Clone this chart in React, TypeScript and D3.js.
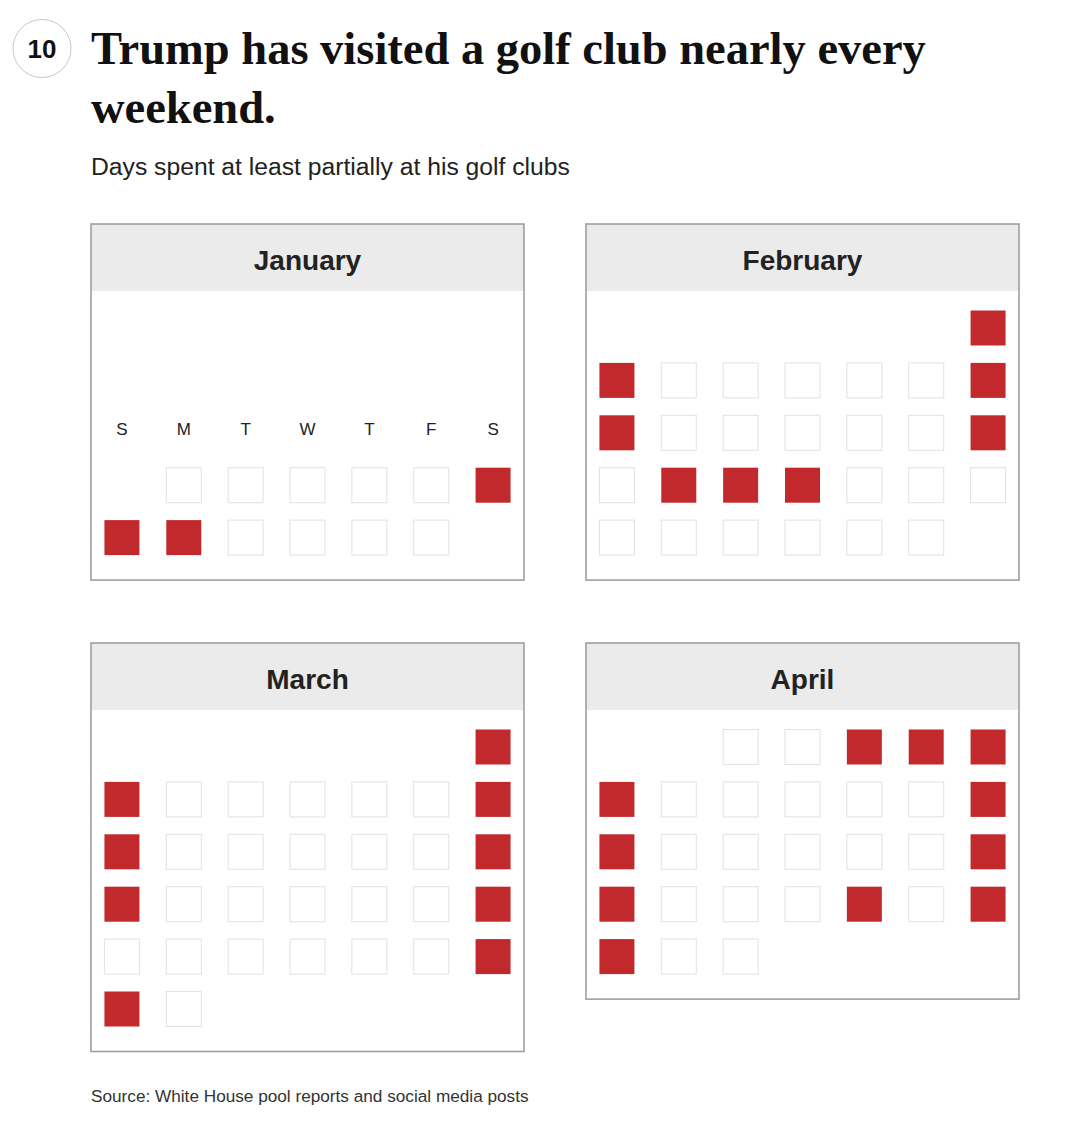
import React from 'react';
import * as d3 from 'd3';

// visible date range per month (tracking starts Jan 20, ends Apr 29)
const monthNames = ['January', 'February', 'March', 'April'];
const rangeStarts = ['2025-01-20', '2025-02-01', '2025-03-01', '2025-04-01'];
const rangeEnds = ['2025-01-31', '2025-02-28', '2025-03-31', '2025-04-29'];

// days spent at least partially at a golf club
const januaryVisits = [25, 26, 27];
const februaryVisits = [1, 2, 8, 9, 15, 17, 18, 19];
const marchVisits = [1, 2, 8, 9, 15, 16, 22, 29, 30];
const aprilVisits = [3, 4, 5, 6, 12, 13, 19, 20, 24, 26, 27];
const visitsByMonth = [januaryVisits, februaryVisits, marchVisits, aprilVisits];

const weekdayLabels = ['S', 'M', 'T', 'W', 'T', 'F', 'S'];

const W = 1090;
const H = 1128;
const PANEL_W = 433;
const HEADER_H = 67;
const ROW_STEP = 52.4;
const CELL = 35;
const RED = '#c1292c';

const parse = d3.utcParse('%Y-%m-%d');
const panelX = [91, 586, 91, 586];
const panelY = [224, 224, 643, 643];

const sans = '"Liberation Sans", Arial, sans-serif';

type Day = { date: Date; day: number; row: number; col: number; visited: boolean };

function monthDays(i: number): Day[] {
  const start = parse(rangeStarts[i]) as Date;
  const end = parse(rangeEnds[i]) as Date;
  const first = d3.utcMonth(start);
  return d3.utcDays(start, d3.utcDay.offset(end, 1)).map((date) => ({
    date,
    day: date.getUTCDate(),
    row: d3.utcSunday.count(first, date),
    col: date.getUTCDay(),
    visited: visitsByMonth[i].includes(date.getUTCDate()),
  }));
}

const Panel: React.FC<{ i: number }> = ({ i }) => {
  const days = monthDays(i);
  const first = d3.utcMonth(days[0].date);
  const last = d3.utcDay.offset(d3.utcMonth.offset(first, 1), -1);
  const nRows = d3.utcSunday.count(first, last) + 1;
  const x = d3.scaleBand<number>().domain(d3.range(7)).range([0, PANEL_W]);
  const y = d3.scaleLinear().domain([0, 1]).range([HEADER_H + 37, HEADER_H + 37 + ROW_STEP]);
  const height = y(nRows - 1) + CELL / 2 + 25;
  const firstRow = days[0].row;
  const showLabels = firstRow > 0 && i === 0;
  return (
    <g transform={`translate(${panelX[i]},${panelY[i]})`}>
      <rect x={0} y={0} width={PANEL_W} height={height} fill="#fff" />
      <rect x={0} y={0} width={PANEL_W} height={HEADER_H} fill="#ebebeb" />
      <rect x={0} y={0} width={PANEL_W} height={height} fill="none" stroke="#999" strokeWidth={1.5} />
      <text
        x={PANEL_W / 2}
        y={46}
        textAnchor="middle"
        fontFamily={sans}
        fontWeight="bold"
        fontSize={28}
        fill="#222"
      >
        {monthNames[i]}
      </text>
      {showLabels &&
        weekdayLabels.map((l, k) => (
          <text
            key={k}
            x={(x(k) as number) + x.bandwidth() / 2}
            y={y(firstRow - 1) + 2}
            textAnchor="middle"
            fontFamily={sans}
            fontSize={17}
            fill="#222"
          >
            {l}
          </text>
        ))}
      {days.map((d) => (
        <rect
          key={d.day}
          x={(x(d.col) as number) + x.bandwidth() / 2 - CELL / 2}
          y={y(d.row) - CELL / 2}
          width={CELL}
          height={CELL}
          fill={d.visited ? RED : '#fff'}
          stroke={d.visited ? 'none' : '#e2e2e2'}
          strokeWidth={1}
        />
      ))}
    </g>
  );
};

export default function App() {
  return (
    <svg
      width={W}
      height={H}
      style={{ position: 'absolute', left: 0, top: 0, background: '#fff' }}
    >
      <rect width={W} height={H} fill="#fff" />
      <circle cx={42} cy={48.5} r={29} fill="#fff" stroke="#c8c8c8" strokeWidth={1} />
      <text x={42} y={58} textAnchor="middle" fontFamily={sans} fontWeight="bold" fontSize={26} fill="#111">
        10
      </text>
      <text fontFamily='"Liberation Serif", "Times New Roman", serif' fontWeight="bold" fontSize={46.5} fill="#111">
        <tspan x={91} y={64}>Trump has visited a golf club nearly every</tspan>
        <tspan x={91} y={123}>weekend.</tspan>
      </text>
      <text x={91} y={175} fontFamily={sans} fontSize={24.7} fill="#222">
        Days spent at least partially at his golf clubs
      </text>
      {monthNames.map((_, i) => (
        <Panel key={i} i={i} />
      ))}
      <text x={91} y={1102} fontFamily={sans} fontSize={17.2} fill="#333">
        Source: White House pool reports and social media posts
      </text>
    </svg>
  );
}
